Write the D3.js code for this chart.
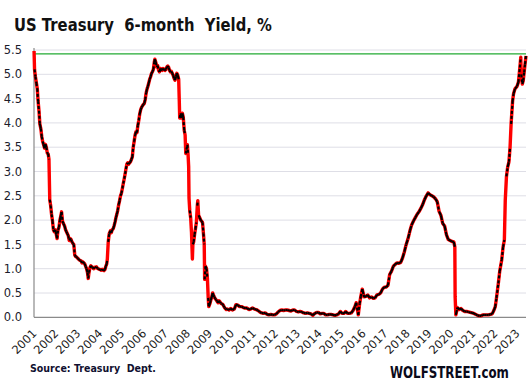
<!DOCTYPE html>
<html>
<head>
<meta charset="utf-8">
<script src="https://cdn.jsdelivr.net/npm/d3@7.9.0/dist/d3.min.js"></script>
<style>
  html, body { margin: 0; padding: 0; background: #fff; }
  svg { display: block; }
</style>
</head>
<body>
<svg id="chart" width="530" height="391"></svg>
<script>
// --- data ---
const titleText = 'US Treasury  6-month  Yield, %';
const sourceText = 'Source: Treasury  Dept.';
const brandText = 'WOLFSTREET.com';

const yTicks = [0, 0.5, 1, 1.5, 2, 2.5, 3, 3.5, 4, 4.5, 5, 5.5];
const yearTicks = d3.range(2001, 2024);
const latestLevel = 5.42; // green reference line

// 6-month yield, %, [date, value]
const yieldSeries = [
  ['2001-01-02',5.48],['2001-01-10',5.10],['2001-01-25',4.95],['2001-02-10',4.82],['2001-02-25',4.70],
  ['2001-03-10',4.45],['2001-03-25',4.25],['2001-04-08',3.98],['2001-04-25',3.88],['2001-05-10',3.72],
  ['2001-05-25',3.62],['2001-06-10',3.55],['2001-06-25',3.48],['2001-07-10',3.56],['2001-07-25',3.50],
  ['2001-08-10',3.38],['2001-08-25',3.36],['2001-09-07',3.25],['2001-09-20',2.42],['2001-10-05',2.30],
  ['2001-10-20',2.12],['2001-11-05',1.98],['2001-11-20',1.80],['2001-12-05',1.76],['2001-12-20',1.80],
  ['2002-01-08',1.70],['2002-01-20',1.62],['2002-02-05',1.80],['2002-02-20',1.85],['2002-03-08',2.00],
  ['2002-03-25',2.10],['2002-04-05',2.17],['2002-04-20',1.98],['2002-05-05',1.93],['2002-05-25',1.88],
  ['2002-06-10',1.80],['2002-06-25',1.76],['2002-07-10',1.72],['2002-07-25',1.68],['2002-08-10',1.58],
  ['2002-08-25',1.62],['2002-09-10',1.60],['2002-09-25',1.55],['2002-10-10',1.52],['2002-10-25',1.50],
  ['2002-11-10',1.28],['2002-11-25',1.25],['2002-12-10',1.24],['2002-12-25',1.22],
  ['2003-01-10',1.20],['2003-01-25',1.18],['2003-02-10',1.17],['2003-02-25',1.16],['2003-03-10',1.12],
  ['2003-03-25',1.14],['2003-04-10',1.12],['2003-04-25',1.10],['2003-05-10',1.05],['2003-05-25',1.00],
  ['2003-06-10',0.92],['2003-06-22',0.80],['2003-07-05',0.92],['2003-07-20',1.02],['2003-08-05',1.06],
  ['2003-08-20',1.04],['2003-09-05',1.02],['2003-09-20',1.00],['2003-10-05',1.03],['2003-10-20',1.02],
  ['2003-11-05',1.04],['2003-11-20',1.01],['2003-12-05',1.00],['2003-12-20',0.99],
  ['2004-01-10',0.98],['2004-01-25',0.97],['2004-02-10',0.99],['2004-02-25',0.97],['2004-03-10',0.96],
  ['2004-03-25',0.98],['2004-04-10',1.05],['2004-04-25',1.10],['2004-05-05',1.20],['2004-05-20',1.55],
  ['2004-06-05',1.72],['2004-06-25',1.78],['2004-07-10',1.74],['2004-07-25',1.80],['2004-08-10',1.82],
  ['2004-08-25',1.88],['2004-09-10',1.96],['2004-09-25',2.05],['2004-10-10',2.12],['2004-10-25',2.20],
  ['2004-11-10',2.32],['2004-11-25',2.40],['2004-12-10',2.50],['2004-12-25',2.55],
  ['2005-01-10',2.65],['2005-01-25',2.75],['2005-02-10',2.85],['2005-02-25',2.95],['2005-03-10',3.05],
  ['2005-03-25',3.15],['2005-04-10',3.18],['2005-04-25',3.15],['2005-05-10',3.18],['2005-05-25',3.20],
  ['2005-06-10',3.25],['2005-06-25',3.30],['2005-07-10',3.50],['2005-07-25',3.62],['2005-08-10',3.75],
  ['2005-08-25',3.82],['2005-09-10',3.80],['2005-09-25',3.95],['2005-10-10',4.05],['2005-10-25',4.18],
  ['2005-11-10',4.27],['2005-11-25',4.32],['2005-12-10',4.35],['2005-12-25',4.38],
  ['2006-01-10',4.40],['2006-01-25',4.48],['2006-02-10',4.62],['2006-02-25',4.70],['2006-03-10',4.75],
  ['2006-03-25',4.82],['2006-04-10',4.90],['2006-04-25',4.95],['2006-05-10',5.02],['2006-05-25',5.05],
  ['2006-06-10',5.10],['2006-06-25',5.25],['2006-07-05',5.31],['2006-07-20',5.25],['2006-08-05',5.15],
  ['2006-08-20',5.18],['2006-09-05',5.08],['2006-09-20',5.05],['2006-10-05',5.12],['2006-10-20',5.10],
  ['2006-11-05',5.08],['2006-11-20',5.12],['2006-12-05',5.10],['2006-12-20',5.08],
  ['2007-01-05',5.10],['2007-01-20',5.15],['2007-02-05',5.17],['2007-02-20',5.14],['2007-03-05',5.08],
  ['2007-03-20',5.05],['2007-04-05',5.06],['2007-04-20',5.02],['2007-05-05',4.98],['2007-05-20',4.92],
  ['2007-06-05',4.88],['2007-06-20',4.95],['2007-07-05',5.02],['2007-07-20',4.98],['2007-08-05',4.90],
  ['2007-08-15',4.45],['2007-08-22',4.10],['2007-09-05',4.20],['2007-09-20',4.10],['2007-10-05',4.20],
  ['2007-10-20',4.12],['2007-11-05',3.85],['2007-11-20',3.75],['2007-12-01',3.37],['2007-12-12',3.45],
  ['2007-12-28',3.55],
  ['2008-01-08',3.35],['2008-01-18',3.10],['2008-01-24',2.45],['2008-02-05',2.20],['2008-02-20',2.05],
  ['2008-03-05',1.75],['2008-03-20',1.20],['2008-03-28',1.50],['2008-04-10',1.55],['2008-04-25',1.70],
  ['2008-05-10',1.82],['2008-05-25',1.95],['2008-06-10',2.30],['2008-06-18',2.40],['2008-07-01',2.10],
  ['2008-07-20',2.05],['2008-08-05',2.00],['2008-08-20',1.98],['2008-09-05',1.95],['2008-09-20',1.72],
  ['2008-10-03',1.50],['2008-10-10',0.78],['2008-10-25',1.05],['2008-11-10',1.00],['2008-11-25',0.80],
  ['2008-12-08',0.40],['2008-12-18',0.22],
  ['2009-01-05',0.28],['2009-01-20',0.35],['2009-02-05',0.42],['2009-02-20',0.50],['2009-03-05',0.46],
  ['2009-03-20',0.42],['2009-04-05',0.38],['2009-04-20',0.36],['2009-05-05',0.33],['2009-05-20',0.30],
  ['2009-06-05',0.34],['2009-06-20',0.32],['2009-07-05',0.29],['2009-07-20',0.28],['2009-08-05',0.27],
  ['2009-08-20',0.24],['2009-09-05',0.20],['2009-09-20',0.18],['2009-10-05',0.16],['2009-10-20',0.17],
  ['2009-11-05',0.16],['2009-11-20',0.15],['2009-12-05',0.17],['2009-12-20',0.18],
  ['2010-01-15',0.15],['2010-02-15',0.17],['2010-03-15',0.26],['2010-04-15',0.25],['2010-05-15',0.22],
  ['2010-06-15',0.22],['2010-07-15',0.20],['2010-08-15',0.19],['2010-09-15',0.19],['2010-10-15',0.16],
  ['2010-11-15',0.17],['2010-12-15',0.19],
  ['2011-01-15',0.17],['2011-02-15',0.16],['2011-03-15',0.14],['2011-04-15',0.11],['2011-05-15',0.09],
  ['2011-06-15',0.08],['2011-07-15',0.09],['2011-08-15',0.06],['2011-09-15',0.05],['2011-10-15',0.06],
  ['2011-11-15',0.05],['2011-12-15',0.05],
  ['2012-01-15',0.07],['2012-02-15',0.11],['2012-03-15',0.14],['2012-04-15',0.15],['2012-05-15',0.14],
  ['2012-06-15',0.15],['2012-07-15',0.15],['2012-08-15',0.14],['2012-09-15',0.13],['2012-10-15',0.15],
  ['2012-11-15',0.15],['2012-12-15',0.12],
  ['2013-01-15',0.11],['2013-02-15',0.12],['2013-03-15',0.11],['2013-04-15',0.09],['2013-05-15',0.08],
  ['2013-06-15',0.09],['2013-07-15',0.08],['2013-08-15',0.07],['2013-09-15',0.04],['2013-10-15',0.08],
  ['2013-11-15',0.10],['2013-12-15',0.10],
  ['2014-01-15',0.07],['2014-02-15',0.08],['2014-03-15',0.08],['2014-04-15',0.05],['2014-05-15',0.05],
  ['2014-06-15',0.06],['2014-07-15',0.06],['2014-08-15',0.05],['2014-09-15',0.04],['2014-10-15',0.05],
  ['2014-11-15',0.07],['2014-12-15',0.12],
  ['2015-01-15',0.08],['2015-02-15',0.08],['2015-03-15',0.12],['2015-04-15',0.08],['2015-05-15',0.08],
  ['2015-06-15',0.09],['2015-07-15',0.14],['2015-08-15',0.22],['2015-09-05',0.30],['2015-10-10',0.05],
  ['2015-11-01',0.28],['2015-11-20',0.42],['2015-12-15',0.58],
  ['2016-01-15',0.42],['2016-02-15',0.43],['2016-03-15',0.46],['2016-04-15',0.40],['2016-05-15',0.42],
  ['2016-06-15',0.39],['2016-07-15',0.40],['2016-08-15',0.46],['2016-09-15',0.47],['2016-10-15',0.50],
  ['2016-11-15',0.58],['2016-12-15',0.62],
  ['2017-01-15',0.62],['2017-02-15',0.66],['2017-03-15',0.88],['2017-04-15',0.95],['2017-05-15',1.05],
  ['2017-06-15',1.09],['2017-07-15',1.12],['2017-08-15',1.11],['2017-09-15',1.13],['2017-10-15',1.22],
  ['2017-11-15',1.35],['2017-12-15',1.50],
  ['2018-01-15',1.62],['2018-02-15',1.78],['2018-03-15',1.90],['2018-04-15',1.98],['2018-05-15',2.05],
  ['2018-06-15',2.12],['2018-07-15',2.17],['2018-08-15',2.24],['2018-09-15',2.32],['2018-10-15',2.42],
  ['2018-11-15',2.50],['2018-12-15',2.56],
  ['2019-01-15',2.52],['2019-02-15',2.50],['2019-03-15',2.48],['2019-04-15',2.44],['2019-05-15',2.38],
  ['2019-06-15',2.18],['2019-07-15',2.10],['2019-08-15',1.93],['2019-09-15',1.88],['2019-10-15',1.70],
  ['2019-11-15',1.60],['2019-12-15',1.58],
  ['2020-01-15',1.56],['2020-02-15',1.55],['2020-03-03',1.45],['2020-03-08',0.42],['2020-03-20',0.05],
  ['2020-04-15',0.20],['2020-05-15',0.16],['2020-06-15',0.18],['2020-07-15',0.14],['2020-08-15',0.12],
  ['2020-09-15',0.12],['2020-10-15',0.11],['2020-11-15',0.10],['2020-12-15',0.09],
  ['2021-01-15',0.08],['2021-02-15',0.06],['2021-03-15',0.04],['2021-04-15',0.03],['2021-05-15',0.03],
  ['2021-06-15',0.05],['2021-07-15',0.05],['2021-08-15',0.05],['2021-09-15',0.05],['2021-10-15',0.06],
  ['2021-11-15',0.07],['2021-12-15',0.15],
  ['2022-01-05',0.22],['2022-01-25',0.40],['2022-02-25',0.70],['2022-03-20',0.95],['2022-04-22',1.18],
  ['2022-05-15',1.45],['2022-06-05',1.59],['2022-06-20',2.41],['2022-07-10',2.90],['2022-07-30',3.09],
  ['2022-08-20',3.20],['2022-09-08',3.50],['2022-09-25',3.98],['2022-10-20',4.45],['2022-11-05',4.60],
  ['2022-11-28',4.70],['2023-01-01',4.75],['2023-01-25',4.84],['2023-02-18',5.14],['2023-03-05',5.35],
  ['2023-03-13',5.00],['2023-03-31',4.80],['2023-04-15',4.87],['2023-04-30',5.04],['2023-05-15',5.21],
  ['2023-05-31',5.38]
];

const parseDate = d3.timeParse('%Y-%m-%d');
const data = yieldSeries.map(([d, v]) => ({ date: parseDate(d), value: v }));

const svg = d3.select('#chart');
const font = '"DejaVu Sans", Verdana, sans-serif';

// plot box
const plotLeft = 34, plotRight = 526, plotTop = 50, plotBottom = 317.3;

const x = d3.scaleTime()
  .domain([parseDate('2001-01-01'), parseDate('2023-05-31')])
  .range([plotLeft, plotRight]);

const y = d3.scaleLinear()
  .domain([0, 5.5])
  .range([plotBottom, plotTop]);

// gridlines
svg.append('g')
  .selectAll('line')
  .data(yTicks.filter(d => d > 0))
  .join('line')
  .attr('x1', plotLeft).attr('x2', plotRight)
  .attr('y1', d => y(d)).attr('y2', d => y(d))
  .attr('stroke', '#dedee6')
  .attr('stroke-width', 1);

// y tick labels
svg.append('g')
  .selectAll('text')
  .data(yTicks)
  .join('text')
  .attr('x', 22)
  .attr('y', d => y(d))
  .attr('dy', '0.36em')
  .attr('text-anchor', 'end')
  .attr('font-family', font)
  .attr('font-size', 11.5)
  .attr('fill', '#1c1c2c')
  .text(d3.format('.1f'));

// axes lines
svg.append('line')
  .attr('x1', plotLeft).attr('x2', plotLeft)
  .attr('y1', plotTop - 2).attr('y2', plotBottom)
  .attr('stroke', '#8a8a8a').attr('stroke-width', 1.2);
svg.append('line')
  .attr('x1', plotLeft).attr('x2', plotRight)
  .attr('y1', plotBottom).attr('y2', plotBottom)
  .attr('stroke', '#8a8a8a').attr('stroke-width', 1.2);

// x tick labels (rotated)
svg.append('g')
  .selectAll('text')
  .data(yearTicks)
  .join('text')
  .attr('transform', d => `translate(${x(new Date(d, 0, 1)) + 0.5},${plotBottom + 14}) rotate(-45)`)
  .attr('dy', '0.35em')
  .attr('text-anchor', 'end')
  .attr('font-family', font)
  .attr('font-size', 11.5)
  .attr('fill', '#1c1c1c')
  .text(d => d);

// green latest-level line
svg.append('line')
  .attr('x1', plotLeft).attr('x2', plotRight)
  .attr('y1', y(latestLevel)).attr('y2', y(latestLevel))
  .attr('stroke', '#22aa33').attr('stroke-width', 1.3);

// red line underneath
const line = d3.line()
  .x(d => x(d.date))
  .y(d => y(d.value));

svg.append('path')
  .datum(data)
  .attr('d', line)
  .attr('fill', 'none')
  .attr('stroke', '#ff0000')
  .attr('stroke-width', 3.4)
  .attr('stroke-linejoin', 'round');

// black overlay, thinned out where the curve jumps
const segs = d3.pairs(data).map(([a, b]) => {
  const dx = x(b.date) - x(a.date);
  const dy = Math.abs(y(b.value) - y(a.value));
  return { pts: [a, b], slope: dy / Math.max(dx, 0.1) };
});

svg.append('g')
  .selectAll('path')
  .data(segs.filter(s => s.slope < 16))
  .join('path')
  .attr('d', s => line(s.pts))
  .attr('fill', 'none')
  .attr('stroke', '#000')
  .attr('stroke-width', 2.2)
  .attr('stroke-dasharray', s => s.slope < 5 ? '5,0.8' : '3,2');

// texts squeezed horizontally to the reference widths
function fitText(sel, width) {
  const w = sel.node().getComputedTextLength();
  const tx = +sel.attr('x'), ty = +sel.attr('y');
  sel.attr('x', 0).attr('y', 0)
    .attr('transform', `translate(${tx},${ty}) scale(${width / w},1)`);
}

const title = svg.append('text')
  .attr('x', 14).attr('y', 31)
  .attr('font-family', font)
  .attr('font-weight', 'bold')
  .attr('font-size', 18.5)
  .attr('fill', '#111')
  .style('white-space', 'pre')
  .text(titleText);
fitText(title, 258);

const source = svg.append('text')
  .attr('x', 30).attr('y', 372)
  .attr('font-family', font)
  .attr('font-weight', 'bold')
  .attr('font-size', 11)
  .attr('fill', '#101030')
  .style('white-space', 'pre')
  .text(sourceText);
fitText(source, 126);

const brand = svg.append('text')
  .attr('x', 390).attr('y', 378)
  .attr('font-family', font)
  .attr('font-weight', 'bold')
  .attr('font-size', 15.5)
  .attr('fill', '#0a0a1a')
  .text(brandText);
fitText(brand, 119);
</script>
</body>
</html>
